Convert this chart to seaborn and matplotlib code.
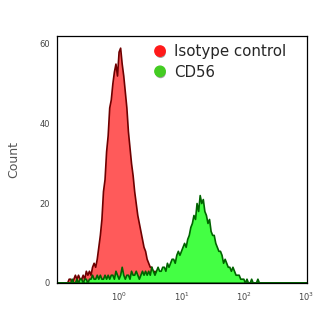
import numpy as np
import pandas as pd
import matplotlib
matplotlib.use("Agg")
import matplotlib.pyplot as plt
import matplotlib.patheffects as pe
from matplotlib.lines import Line2D
from matplotlib.ticker import FixedLocator, LogLocator, MultipleLocator, NullFormatter
import seaborn as sns

# Histogram channels: log10 bin width 0.025 decades
bin_width = 0.025

# Isotype control, bins starting at log10 = -0.85
iso_start = -0.85
iso_counts = [
    0, 1, 1, 0,
    1, 2, 1, 2, 1, 1,
    2, 1, 3, 2, 3, 2,
    4, 5, 4, 6,
    9, 12, 16, 23,
    26, 33, 37, 44,
    46, 50, 53, 55, 52, 58, 59, 55, 52, 48,
    44, 38, 34, 30, 27, 23, 20, 17, 15, 13,
    11, 9, 8, 6, 5, 4, 4, 2, 3, 2,
    2, 1, 2, 0, 1, 1, 0, 0,
]

# CD56, bins starting at log10 = -1.0
cd56_start = -1.0
cd56_counts = (
    [0] * 8
    + [0, 1, 0, 0, 1, 0, 1, 1, 0, 1, 1, 0]
    + [1, 1, 2, 1, 1, 2, 1, 2, 1, 1, 2, 1]
    + [2, 1, 2, 2, 1, 3, 2, 1, 2, 4, 2, 1]
    + [2, 2, 1, 3, 2, 2, 3, 2, 1, 2, 3, 2]
    + [3, 2, 3, 2, 4, 3, 2, 3, 4, 3, 3, 4]
    + [4, 3, 5, 4, 5, 6]
    + [6, 5, 7, 8, 7, 8]
    + [9, 10, 9, 11, 12, 14]
    + [15, 17, 16, 20, 18, 22]
    + [20, 21, 18, 17, 15, 16]
    + [13, 12, 12, 10, 9, 8]
    + [8, 7, 5, 6, 5, 4]
    + [4, 3, 4, 3, 2, 2]
    + [2, 1, 1, 1, 0, 1]
    + [0, 0, 1, 0, 0, 0, 1, 0, 0, 0]
    + [0] * 28
)

series_labels = ["Isotype control", "CD56"]
fill_colors = ["#ff5a5a", "#44ff44"]
edge_colors = ["#6e0000", "#006400"]
marker_colors = ["#ff1a1a", "#44cc22"]

x_ticks = [1, 10, 100, 1000]
y_ticks = [0, 20, 40, 60]


def binned_frame(start, counts):
    edges = start + bin_width * np.arange(len(counts) + 1)
    centers = 10 ** ((edges[:-1] + edges[1:]) / 2)
    return pd.DataFrame({"value": centers, "count": counts}), [float(v) for v in edges]


sns.set_style("white")
plt.rcParams["font.family"] = ["DejaVu Sans"]

fig = plt.figure(figsize=(3.35, 3.34), dpi=100)
ax = fig.add_axes([0.170, 0.1536, 0.745, 0.7395])

for start, counts, fc, ec in [
    (iso_start, iso_counts, fill_colors[0], edge_colors[0]),
    (cd56_start, cd56_counts, fill_colors[1], edge_colors[1]),
]:
    df, edges = binned_frame(start, counts)
    sns.histplot(
        data=df, x="value", weights="count", bins=edges, log_scale=True,
        element="poly", fill=True, color=fc, edgecolor=ec, alpha=1.0,
        linewidth=1.2, ax=ax,
    )

ax.set_xlim(0.1, 1000)
ax.set_ylim(0, 62)

ax.xaxis.set_major_locator(FixedLocator(x_ticks))
ax.xaxis.set_minor_locator(LogLocator(base=10, subs=np.arange(2, 10), numticks=50))
ax.xaxis.set_minor_formatter(NullFormatter())
ax.set_yticks(y_ticks)
ax.yaxis.set_minor_locator(MultipleLocator(10))

ax.tick_params(axis="both", which="major", direction="out", length=3, width=0.8,
               labelsize=6, labelcolor="#444444", color="black", pad=2)
ax.tick_params(axis="both", which="minor", direction="in", length=2, width=0.6,
               color="black")
ax.tick_params(axis="x", which="major", pad=3)

for s in ax.spines.values():
    s.set_visible(True)
    s.set_color("black")
    s.set_linewidth(0.9)

ax.set_xlabel("")
ax.set_ylabel("Count", fontsize=9, color="#555555", labelpad=14)

handles = [
    Line2D([], [], linestyle="none", marker="o", markersize=7.5,
           markerfacecolor=c, markeredgecolor=c,
           path_effects=[pe.withSimplePatchShadow(offset=(0.4, -1.2),
                                                  shadow_rgbFace="#888888",
                                                  alpha=0.8)])
    for c in marker_colors
]
ax.legend(handles, series_labels, loc="upper left",
          bbox_to_anchor=(0.383, 0.965), frameon=False, fontsize=10.8,
          handlelength=1.0, handletextpad=0.45, labelspacing=0.35,
          borderpad=0.0, borderaxespad=0.0)

fig.savefig("out.png", dpi=100)
